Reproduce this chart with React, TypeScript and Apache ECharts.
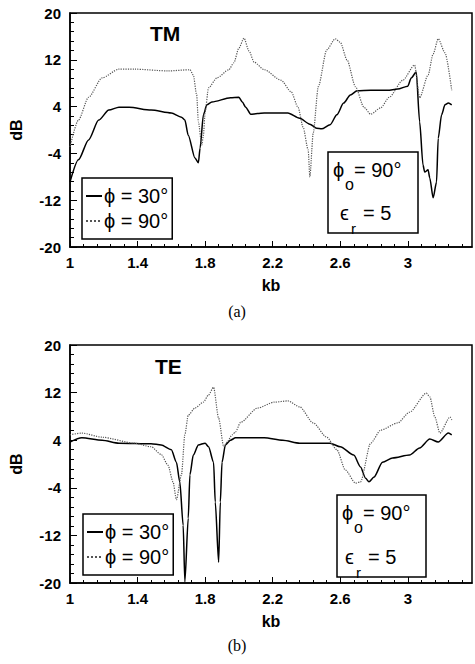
import React, { useEffect, useRef } from "react";
import * as echarts from "echarts";

// kb values paired with dB
const tmPhi30: number[][] = [
  [1.0, -8.9], [1.05, -5.1], [1.11, -1.7], [1.17, 1.7], [1.23, 3.4], [1.29, 3.9], [1.35, 3.9],
  [1.48, 3.4], [1.6, 2.9], [1.66, 2.2], [1.68, 1.7], [1.7, -0.9], [1.74, -4.8], [1.76, -5.6],
  [1.77, -3.1], [1.79, 2.6], [1.81, 4.3], [1.84, 4.8], [1.95, 5.5], [2.0, 5.6], [2.02, 4.8],
  [2.04, 3.9], [2.07, 2.7], [2.11, 2.8], [2.15, 2.9], [2.29, 2.9], [2.36, 2.0], [2.42, 1.0],
  [2.46, 0.3], [2.49, 0.2], [2.54, 0.9], [2.58, 2.6], [2.62, 4.6], [2.66, 6.0], [2.7, 6.7],
  [2.78, 6.8], [2.88, 6.8], [2.94, 7.0], [3.0, 7.5], [3.02, 8.9], [3.05, 9.9], [3.07, 1.4],
  [3.09, -6.0], [3.1, -7.2], [3.12, -6.8], [3.13, -8.2], [3.15, -11.6], [3.17, -8.9],
  [3.18, -1.4], [3.2, 2.6], [3.22, 4.3], [3.24, 4.6], [3.26, 4.3],
];
const tmPhi90: number[][] = [
  [1.0, -2.9], [1.05, 1.7], [1.11, 5.6], [1.19, 8.9], [1.29, 10.4], [1.38, 10.4], [1.58, 10.1],
  [1.71, 10.3], [1.73, 9.4], [1.75, 6.0], [1.76, 1.4], [1.78, -2.6], [1.79, -0.9], [1.8, 3.1],
  [1.82, 7.2], [1.87, 8.9], [1.94, 10.3], [1.97, 11.5], [2.0, 14.0], [2.03, 15.7], [2.06, 13.5],
  [2.09, 11.6], [2.15, 10.3], [2.25, 8.5], [2.31, 6.5], [2.35, 3.9], [2.38, 0.5], [2.41, -3.4],
  [2.42, -8.0], [2.44, -0.5], [2.47, 7.4], [2.52, 13.7], [2.57, 15.6], [2.6, 15.0], [2.64, 12.0],
  [2.69, 7.4], [2.74, 3.9], [2.78, 2.7], [2.84, 3.8], [2.89, 5.6], [2.97, 8.5], [3.04, 11.1],
  [3.07, 5.5], [3.12, 9.4], [3.15, 13.0], [3.18, 15.6], [3.22, 13.2], [3.26, 6.8],
];
const tePhi30: number[][] = [
  [1.0, 3.7], [1.07, 4.4], [1.19, 4.0], [1.29, 3.5], [1.48, 3.4], [1.54, 3.2], [1.6, 2.4],
  [1.63, 0.3], [1.65, -3.0], [1.67, -10.3], [1.68, -19.8], [1.7, -9.1], [1.71, -1.8], [1.73, 1.5],
  [1.76, 3.2], [1.8, 3.5], [1.82, 2.9], [1.85, 0.3], [1.86, -6.4], [1.88, -16.5], [1.89, -6.4],
  [1.9, 0.3], [1.92, 3.2], [1.95, 4.0], [1.98, 4.4], [2.15, 4.4], [2.26, 4.0], [2.36, 3.5],
  [2.46, 3.5], [2.54, 3.5], [2.6, 2.9], [2.68, 1.5], [2.72, -0.5], [2.75, -2.4], [2.77, -3.0],
  [2.8, -2.2], [2.85, 0.3], [2.91, 1.0], [3.01, 1.5], [3.07, 2.7], [3.13, 4.2], [3.18, 3.7],
  [3.24, 5.2], [3.26, 4.9],
];
const tePhi90: number[][] = [
  [1.0, 4.9], [1.07, 5.2], [1.19, 4.5], [1.38, 3.5], [1.48, 2.9], [1.54, 1.6], [1.58, -0.2],
  [1.61, -3.0], [1.63, -6.0], [1.66, -1.8], [1.68, 4.9], [1.7, 8.2], [1.74, 9.4], [1.79, 10.4],
  [1.82, 11.6], [1.85, 12.9], [1.88, 7.7], [1.91, 2.9], [1.93, 3.7], [1.96, 4.9], [1.98, 5.4],
  [2.01, 7.0], [2.11, 9.4], [2.21, 10.4], [2.29, 10.6], [2.36, 9.6], [2.44, 6.9], [2.52, 4.5],
  [2.58, 2.4], [2.63, -1.0], [2.69, -3.2], [2.72, -3.0], [2.78, 3.5], [2.84, 5.7], [2.94, 6.9],
  [3.01, 8.7], [3.11, 11.9], [3.13, 11.3], [3.16, 7.9], [3.19, 5.2], [3.25, 7.9], [3.26, 7.4],
];

const xTicks = [1, 1.4, 1.8, 2.2, 2.6, 3];
const yTicks = [-20, -12, -4, 4, 12, 20];
const seriesNames = ["ϕ = 30°", "ϕ = 90°"];
const panelTitles = ["TM", "TE"];
const panelTags = ["(a)", "(b)"];

const X_MIN = 1;
const X_MAX = 3.38;
const Y_MIN = -20;
const Y_MAX = 20;

function minorOf(major: number[], parts: number, max: number): number[] {
  const step = (major[1] - major[0]) / parts;
  const out: number[] = [];
  for (let i = 0; i < 200; i++) {
    const v = Math.round((major[0] + i * step) * 1000) / 1000;
    if (v > max + 1e-9) break;
    out.push(v);
  }
  return out;
}

const SANS = "'Liberation Sans', Arial, Helvetica, sans-serif";
const SERIF = "'Liberation Serif', 'Times New Roman', serif";

export default function App() {
  const ref = useRef<HTMLDivElement>(null);
  useEffect(() => {
    if (!ref.current) return;
    const chart = echarts.init(ref.current, null, { renderer: "svg" });
    const grids = [
      { left: 68, top: 13, right: 3, height: 234 },
      { left: 68, top: 345, right: 3, height: 238 },
    ];
    const xMinor = minorOf(xTicks, 5, X_MAX);
    const yMinor = minorOf(yTicks, 5, Y_MAX);
    const xAxes: any[] = [];
    const yAxes: any[] = [];
    grids.forEach((_, gi) => {
      xAxes.push({
        type: "value", gridIndex: gi, min: X_MIN, max: X_MAX, position: "bottom",
        name: "kb", nameLocation: "middle", nameGap: 30,
        nameTextStyle: { fontFamily: SANS, fontWeight: "bold", fontSize: 16, color: "#000" },
        axisLine: { show: true, onZero: false, lineStyle: { color: "#000", width: 1.5 } },
        axisTick: { show: true, inside: true, length: 6, customValues: xTicks, lineStyle: { color: "#000", width: 1 } },
        axisLabel: { show: true, customValues: xTicks, margin: 8, fontFamily: SANS, fontWeight: "bold", fontSize: 15, color: "#000", formatter: (v: number) => String(Math.round(v * 10) / 10) },
        splitLine: { show: false },
      });
      xAxes.push({
        type: "value", gridIndex: gi, min: X_MIN, max: X_MAX, position: "bottom",
        axisLine: { show: false, onZero: false },
        axisTick: { show: true, inside: true, length: 3, customValues: xMinor, lineStyle: { color: "#000", width: 1 } },
        axisLabel: { show: false },
        splitLine: { show: false },
      });
      yAxes.push({
        type: "value", gridIndex: gi, min: Y_MIN, max: Y_MAX, position: "left",
        name: "dB", nameLocation: "middle", nameGap: 46, nameRotate: 90,
        nameTextStyle: { fontFamily: SANS, fontWeight: "bold", fontSize: 16, color: "#000" },
        axisLine: { show: true, onZero: false, lineStyle: { color: "#000", width: 1.5 } },
        axisTick: { show: true, inside: true, length: 7, customValues: yTicks, lineStyle: { color: "#000", width: 1 } },
        axisLabel: { show: true, customValues: yTicks, margin: 9, fontFamily: SANS, fontWeight: "bold", fontSize: 15, color: "#000" },
        splitLine: { show: false },
      });
      yAxes.push({
        type: "value", gridIndex: gi, min: Y_MIN, max: Y_MAX, position: "left",
        axisLine: { show: false, onZero: false },
        axisTick: { show: true, inside: true, length: 4, customValues: yMinor, lineStyle: { color: "#000", width: 1 } },
        axisLabel: { show: false },
        splitLine: { show: false },
      });
    });

    const solid = { color: "#000", width: 1.5, type: "solid" as const };
    const dotted = { color: "#555", width: 1.2, type: "dotted" as const };
    const mk = (name: string, data: number[][], gi: number, ls: any) => ({
      type: "line", name, data, xAxisIndex: gi * 2, yAxisIndex: gi * 2,
      showSymbol: false, symbol: "none", smooth: 0.25, smoothMonotone: "x",
      lineStyle: ls, itemStyle: { color: ls.color },
    });

    const legendBase = {
      orient: "vertical", itemWidth: 16, itemHeight: 10, itemGap: 5,
      padding: [8, 4, 8, 3], borderColor: "#000", borderWidth: 1.5, backgroundColor: "#fff",
      itemStyle: { opacity: 0 },
      textStyle: { fontFamily: SANS, fontSize: 20, color: "#000", padding: [0, 0, 0, -3] },
      data: seriesNames, selectedMode: false,
    };

    const t = (text: string, x: number, y: number, size: number, extra: any = {}) => ({
      type: "text", x, y, z: 100,
      style: { text, fontFamily: SANS, fontSize: size, fill: "#000", verticalAlign: "middle", ...extra },
    });
    const paramBox = (x: number, y: number, w: number, h: number, o: any) => ({
      type: "group", children: [
        { type: "rect", shape: { x, y, width: w, height: h }, z: 99, style: { fill: "#fff", stroke: "#000", lineWidth: 1.5 } },
        t("ϕ", o.phiX, o.phiY, 20),
        t("o", o.phiX + 12, o.phiY + 14, 16),
        t("= 90°", o.phiX + 21, o.phiY, 20),
        t("ϵ", o.epsX, o.epsY, 20),
        t("r", o.epsX + 11, o.epsY + 15, 15),
        t("= 5", o.epsX + 23, o.epsY, 20),
      ],
    });

    chart.setOption({
      animation: false,
      backgroundColor: "#fff",
      grid: grids.map((g) => ({ ...g, show: true, borderColor: "#000", borderWidth: 1.5, backgroundColor: "transparent" })),
      xAxis: xAxes,
      yAxis: yAxes,
      legend: [
        { ...legendBase, left: 82, top: 178 },
        { ...legendBase, left: 83, top: 514 },
      ],
      series: [
        mk(seriesNames[0], tmPhi30, 0, solid),
        mk(seriesNames[1], tmPhi90, 0, dotted),
        mk(seriesNames[0], tePhi30, 1, solid),
        mk(seriesNames[1], tePhi90, 1, dotted),
      ],
      graphic: [
        t(panelTitles[0], 150, 33, 21, { fontWeight: "bold" }),
        t(panelTitles[1], 155, 366, 21, { fontWeight: "bold" }),
        paramBox(328, 152, 90, 81, { phiX: 333, phiY: 170, epsX: 340, epsY: 213 }),
        paramBox(337, 495, 89, 82, { phiX: 342, phiY: 513, epsX: 345, epsY: 557 }),
        { type: "text", x: 237, y: 311, style: { text: panelTags[0], fontFamily: SERIF, fontSize: 16, fill: "#000", align: "center", verticalAlign: "middle" } },
        { type: "text", x: 237, y: 645, style: { text: panelTags[1], fontFamily: SERIF, fontSize: 16, fill: "#000", align: "center", verticalAlign: "middle" } },
      ],
    });
    return () => chart.dispose();
  }, []);
  return <div ref={ref} style={{ position: "absolute", left: 0, top: 0, width: 475, height: 664 }} />;
}
